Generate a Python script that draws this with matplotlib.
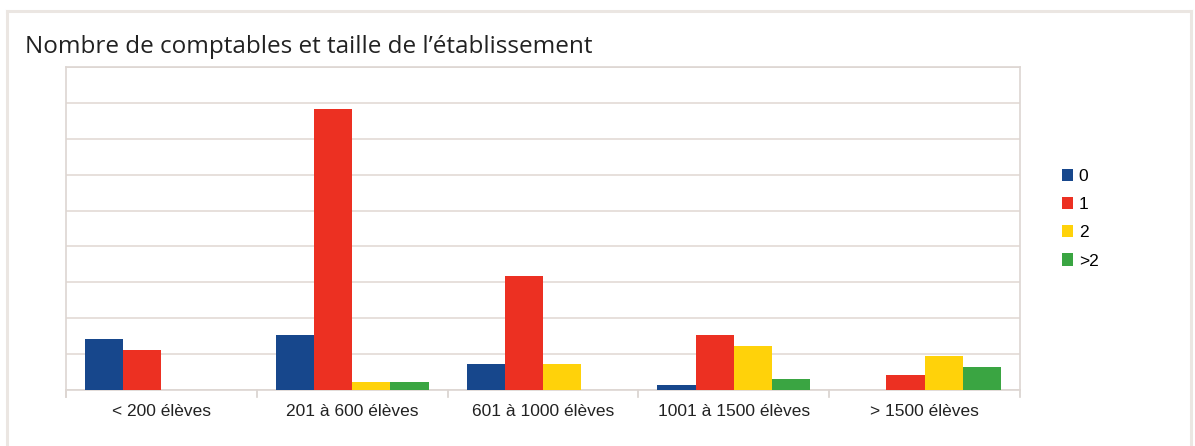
import numpy as np
import matplotlib
matplotlib.use("Agg")
import matplotlib.pyplot as plt

# data (grid step = 10)
categories = ["< 200 élèves", "201 à 600 élèves", "601 à 1000 élèves",
              "1001 à 1500 élèves", "> 1500 élèves"]
series_names = ["0", "1", "2", ">2"]
vals_0 = [14.3, 15.2, 7.2, 1.3, 0]
vals_1 = [11.1, 78.2, 31.9, 15.2, 4.3]
vals_2 = [0, 2.1, 7.2, 12.2, 9.4]
vals_gt2 = [0, 2.1, 0, 3.2, 6.3]
colors = ["#17478c", "#ec3022", "#ffd20a", "#3aa542"]

fig = plt.figure(figsize=(11.95, 4.46), dpi=100)

# outer light frame (open at the bottom)
frame_col = "#ebe6e2"
top = 1 - 11/446
fig.add_artist(plt.Line2D([7/1195, 7/1195], [0, top], color=frame_col, lw=2.2,
                          transform=fig.transFigure))
fig.add_artist(plt.Line2D([7/1195, 1191/1195], [top, top], color=frame_col, lw=2.2,
                          transform=fig.transFigure))
fig.add_artist(plt.Line2D([1191/1195, 1191/1195], [0, top], color=frame_col, lw=2.2,
                          transform=fig.transFigure))

fig.text(25/1195, 1 - 47/446, "Nombre de comptables et taille de l\u2019établissement",
         fontsize=17.5, family="Open Sans", color="#222222", va="center", ha="left")

ax = fig.add_axes([66/1195, 56/446, 954/1195, 323/446])

x = np.arange(len(categories))
w = 0.2
all_vals = [vals_0, vals_1, vals_2, vals_gt2]
for i, (vals, name) in enumerate(zip(all_vals, series_names)):
    ax.bar(x - 0.3 + i * w, vals, w, color=colors[i], label=name, zorder=3)

ax.set_xlim(-0.5, len(categories) - 0.5)
ax.set_ylim(0, 90)
ax.set_yticks(np.arange(0, 91, 10))
ax.set_yticklabels([])
ax.tick_params(axis="y", length=0)
ax.grid(axis="y", color="#e3dad6", lw=1.2, zorder=0)

ax.set_xticks(x)
ax.set_xticklabels(categories, fontsize=12.5, family="Liberation Sans", color="#222222")
ax.tick_params(axis="x", length=0, pad=10)
# category separators below the baseline
for b in np.arange(-0.5, len(categories), 1):
    ax.plot([b, b], [0, -2.0], color="#d8d2ce", lw=1.2, clip_on=False, zorder=1)

for s in ax.spines.values():
    s.set_color("#ddd6d2")
    s.set_linewidth(1.2)
ax.spines["left"].set_bounds(-2.0, 90)

leg = ax.legend(loc="center left", bbox_to_anchor=(1.028, 0.53), frameon=False,
                prop={"family": "Liberation Sans", "size": 12.5},
                handlelength=0.6, handleheight=0.7, handletextpad=0.35, labelspacing=0.75)

fig.savefig("out.png", dpi=100, facecolor="white")
